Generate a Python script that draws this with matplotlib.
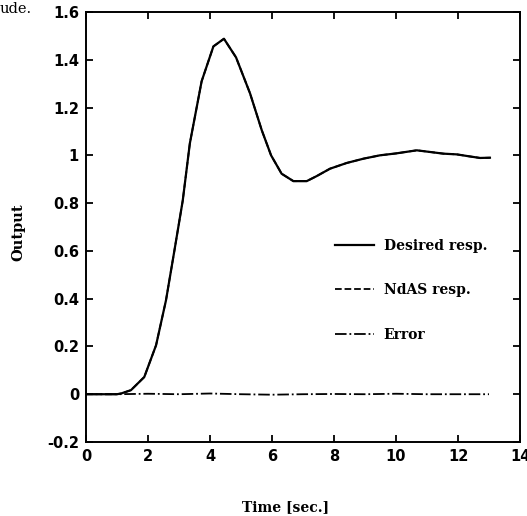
import matplotlib
matplotlib.use("Agg")
import matplotlib.pyplot as plt

# respuesta deseada
tiempo = [0, 0.5, 1.0, 1.13, 1.45, 1.88, 2.26, 2.58, 2.85, 3.12, 3.35, 3.73, 4.11, 4.45,
          4.84, 5.29, 5.67, 5.97, 6.31, 6.69, 7.12, 7.44, 7.87, 8.41, 8.95, 9.48, 10.0,
          10.67, 11.1, 11.53, 11.96, 12.35, 12.71, 13.03]
deseada = [0, 0, 0, 0.003, 0.017, 0.072, 0.205, 0.393, 0.60, 0.81, 1.05, 1.31, 1.456, 1.488,
           1.41, 1.26, 1.105, 1.0, 0.923, 0.892, 0.892, 0.913, 0.944, 0.968, 0.986, 1.0, 1.008,
           1.021, 1.014, 1.007, 1.004, 0.996, 0.989, 0.99]
# la respuesta NdAS coincide con la deseada
ndas = [0, 0, 0, 0.003, 0.017, 0.072, 0.205, 0.393, 0.60, 0.81, 1.05, 1.31, 1.456, 1.488,
        1.41, 1.26, 1.105, 1.0, 0.923, 0.892, 0.892, 0.913, 0.944, 0.968, 0.986, 1.0, 1.008,
        1.021, 1.014, 1.007, 1.004, 0.996, 0.989, 0.99]
# error
t_error = [0, 1, 2, 3, 4, 5, 6, 7, 8, 9, 10, 11, 12, 13]
error = [0, 0, 0.002, 0, 0.003, 0, -0.002, 0, 0.001, 0, 0.002, 0, 0, 0]

xticks = [0, 2, 4, 6, 8, 10, 12, 14]
yticks = [-0.2, 0, 0.2, 0.4, 0.6, 0.8, 1, 1.2, 1.4, 1.6]
yticklabels = ["-0.2", "0", "0.2", "0.4", "0.6", "0.8", "1", "1.2", "1.4", "1.6"]

fig = plt.figure(figsize=(5.27, 5.16), dpi=100)
ax = fig.add_axes([86/527, 1 - 442/516, 434/527, 430/516])

ax.plot(t_error, error, color="black", linestyle="-.", linewidth=1.3, label="Error")
ax.plot(tiempo, ndas, color="black", linestyle="--", linewidth=1.3, label="NdAS resp.")
ax.plot(tiempo, deseada, color="black", linestyle="-", linewidth=1.6, label="Desired resp.")

ax.set_xlim(0, 14)
ax.set_ylim(-0.2, 1.6)
ax.set_xticks(xticks)
ax.set_yticks(yticks)
ax.set_yticklabels(yticklabels)
ax.tick_params(direction="in", length=5, width=1.3, top=True, right=True, pad=5)
for lab in ax.get_xticklabels() + ax.get_yticklabels():
    lab.set_fontweight("bold")
    lab.set_fontsize(10.5)
for s in ax.spines.values():
    s.set_linewidth(1.4)

ax.set_xlabel("Time [sec.]", family="DejaVu Serif", fontweight="bold", fontsize=10)
ax.xaxis.set_label_coords(0.459, -0.151)
ax.xaxis.label.set_va("center")
ax.set_ylabel("Output", family="DejaVu Serif", fontweight="bold", fontsize=10.5)
ax.yaxis.set_label_coords(-0.155, 0.488)
ax.yaxis.label.set_va("center")

h, l = ax.get_legend_handles_labels()
ax.legend(h[::-1], l[::-1], loc="center left", bbox_to_anchor=(0.574, 0.353), frameon=False,
          prop={"family": "DejaVu Serif", "weight": "bold", "size": 10},
          handlelength=2.8, handletextpad=0.7, labelspacing=2.2, borderpad=0, borderaxespad=0)

fig.text(0.0, 1 - 13/516, "ude.", family="DejaVu Serif", fontsize=10.5)

fig.savefig("out.png", dpi=100)
